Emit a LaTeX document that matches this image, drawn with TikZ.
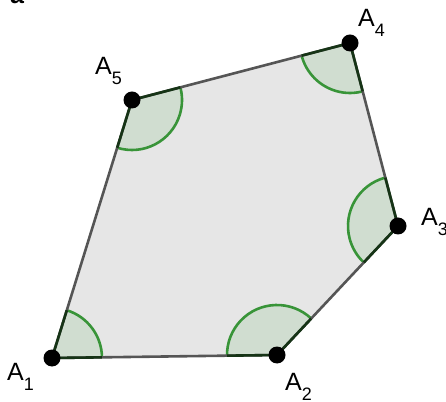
\documentclass[tikz,border=0pt]{standalone}
\usepackage{fontspec}
\setmainfont{Liberation Sans}
\usepackage{xcolor}
\usetikzlibrary{angles}

\definecolor{polyfill}{RGB}{230,230,230}
\definecolor{edgegray}{RGB}{85,85,85}
\definecolor{edgegreen}{RGB}{22,52,22}
\definecolor{arcgreen}{RGB}{56,148,56}
\definecolor{sectfill}{RGB}{208,221,208}

% vertex name with lowered index
\newcommand{\vname}[1]{A\raisebox{-10pt}{\fontsize{18}{18}\selectfont #1}}

\begin{document}
\begin{tikzpicture}[
  x=1pt, y=1pt,
  edge/.style={draw=edgegray, line width=2.6pt, line join=round},
  nearedge/.style={draw=edgegreen, line width=2.6pt, line cap=round},
  sect/.style={fill=sectfill, draw=arcgreen, line width=2.6pt, angle radius=50pt},
  vdot/.style={circle, fill=black, inner sep=0pt, minimum size=17pt},
  lbl/.style={inner sep=0pt, anchor=base west, font=\fontsize{25}{25}\selectfont},
]
\useasboundingbox (0,0) rectangle (446,401);

% cut-off letter at the top
\node[lbl, font=\fontsize{25}{25}\selectfont\bfseries] (cut) at (10,397) {a};

% vertices
\coordinate (A1) at (52,43);
\coordinate (A2) at (277,46);
\coordinate (A3) at (398,175);
\coordinate (A4) at (350,358);
\coordinate (A5) at (132,301);

% pentagon
\fill[polyfill] (A1) -- (A2) -- (A3) -- (A4) -- (A5) -- cycle;

% angle sectors, next--vertex--previous
\foreach \n/\v/\p in {A2/A1/A5, A3/A2/A1, A4/A3/A2, A5/A4/A3, A1/A5/A4}
  \path pic[sect] {angle=\n--\v--\p};

\draw[edge] (A1) -- (A2) -- (A3) -- (A4) -- (A5) -- cycle;

% edge parts inside the sectors
\begin{scope}
  \clip (A1) circle (50) (A2) circle (50) (A3) circle (50)
        (A4) circle (50) (A5) circle (50);
  \draw[nearedge] (A1) -- (A2) -- (A3) -- (A4) -- (A5) -- cycle;
\end{scope}

% points
\foreach \v in {A1,A2,A3,A4,A5}
  \node[vdot] (d\v) at (\v) {};

% labels
\node[lbl] (l1) at (7,21) {\vname{1}};
\node[lbl] (l2) at (285,11) {\vname{2}};
\node[lbl] (l3) at (421,175) {\vname{3}};
\node[lbl] (l4) at (358,374) {\vname{4}};
\node[lbl] (l5) at (95,326) {\vname{5}};
\end{tikzpicture}
\end{document}
